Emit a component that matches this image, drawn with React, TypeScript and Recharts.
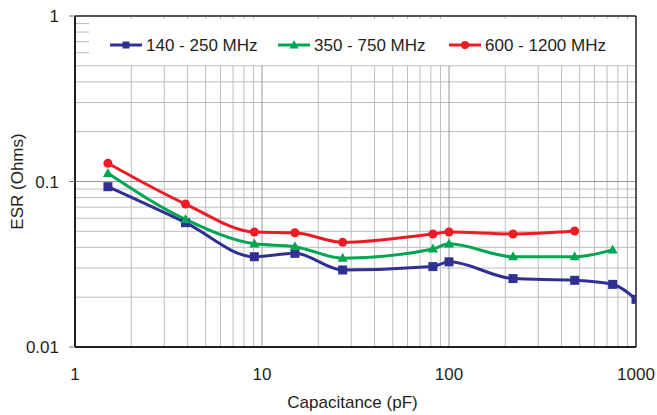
import React from 'react';
import { LineChart, Line, XAxis, YAxis, ReferenceLine, Legend } from 'recharts';

const capacitance = [1.5, 3.9, 9.1, 15, 27, 82, 100, 220, 470, 750, 1000];
const esrLow = [0.093, 0.0564, 0.0351, 0.0368, 0.0292, 0.0306, 0.0327, 0.0259, 0.0253, 0.0239, 0.0194];
const esrMid = [0.112, 0.059, 0.042, 0.0404, 0.0344, 0.0391, 0.042, 0.0351, 0.0351, 0.0386];
const esrHigh = [0.129, 0.0731, 0.0495, 0.049, 0.0429, 0.0482, 0.0495, 0.0482, 0.0502];
const seriesNames = ['140 - 250 MHz', '350 - 750 MHz', '600 - 1200 MHz'];
const xTicks = [1, 10, 100, 1000];
const yTicks = [0.01, 0.1, 1];
const xMajor = [10, 100];
const xMinor = [2, 3, 4, 5, 6, 7, 8, 9, 20, 30, 40, 50, 60, 70, 80, 90, 200, 300, 400, 500, 600, 700, 800, 900];
const yMinorFull = [0.02, 0.03, 0.04, 0.05, 0.06, 0.07, 0.08, 0.09, 0.2, 0.3, 0.4, 0.5];
const yMinorShort = [0.6, 0.7, 0.8, 0.9];
const yMajor = [0.1];

const BLUE = '#2e3192';
const GREEN = '#00a651';
const RED = '#ed1c24';
const TEXT = '#231f20';
const FONT = '"Liberation Sans", Arial, Helvetica, sans-serif';

const toPoints = (ys: number[]) => ys.map((y, i) => ({ x: capacitance[i], y }));

const Square = (color: string, s: number) => (props: any) => {
  const { cx, cy, index } = props;
  if (cx == null || cy == null) return <g key={`sq-${index}`} />;
  return <rect key={`sq-${index}`} x={cx - s / 2} y={cy - s / 2} width={s} height={s} fill={color} />;
};
const Triangle = (color: string, s: number) => (props: any) => {
  const { cx, cy, index } = props;
  if (cx == null || cy == null) return <g key={`tr-${index}`} />;
  const h = s * 0.9;
  return (
    <polygon
      key={`tr-${index}`}
      points={`${cx},${cy - h * 0.6} ${cx - s / 2},${cy + h * 0.4} ${cx + s / 2},${cy + h * 0.4}`}
      fill={color}
    />
  );
};
const Circle = (color: string, r: number) => (props: any) => {
  const { cx, cy, index } = props;
  if (cx == null || cy == null) return <g key={`ci-${index}`} />;
  return <circle key={`ci-${index}`} cx={cx} cy={cy} r={r} fill={color} />;
};

const LegendContent = () => {
  const items = [
    { name: seriesNames[0], color: BLUE, x: 10, kind: 'sq' },
    { name: seriesNames[1], color: GREEN, x: 178, kind: 'tr' },
    { name: seriesNames[2], color: RED, x: 349, kind: 'ci' },
  ];
  return (
    <svg width={540} height={30} style={{ display: 'block' }}>
      {items.map((it) => (
        <g key={it.name}>
          <line x1={it.x} x2={it.x + 32} y1={15} y2={15} stroke={it.color} strokeWidth={3} />
          {it.kind === 'sq' && <rect x={it.x + 12.5} y={11.5} width={7} height={7} fill={it.color} />}
          {it.kind === 'tr' && (
            <polygon points={`${it.x + 16},${10} ${it.x + 11.5},${18.5} ${it.x + 20.5},${18.5}`} fill={it.color} />
          )}
          {it.kind === 'ci' && <circle cx={it.x + 16} cy={15} r={4} fill={it.color} />}
          <text x={it.x + 36} y={15} dominantBaseline="central" fontSize={17} fill={TEXT} fontFamily={FONT}>
            {it.name}
          </text>
        </g>
      ))}
    </svg>
  );
};

const YLabel = (props: any) => {
  const vb = props.viewBox || { x: 0, y: 16, width: 75, height: 331 };
  const cx = 17;
  const cy = vb.y + vb.height / 2;
  return (
    <text
      x={cx}
      y={cy}
      transform={`rotate(-90, ${cx}, ${cy})`}
      textAnchor="middle"
      dominantBaseline="central"
      fontSize={17}
      fill={TEXT}
      fontFamily={FONT}
    >
      ESR (Ohms)
    </text>
  );
};

const XLabel = (props: any) => {
  const vb = props.viewBox || { x: 75, y: 347, width: 561, height: 68 };
  const cx = vb.x + vb.width / 2 - 3;
  const cy = 402;
  return (
    <text x={cx} y={cy} textAnchor="middle" dominantBaseline="central" fontSize={17} fill={TEXT} fontFamily={FONT}>
      Capacitance (pF)
    </text>
  );
};

const fmtY = (v: number) => (v >= 1 ? '1' : v >= 0.1 ? '0.1' : '0.01');

export default function App() {
  return (
    <div style={{ position: 'absolute', left: 0, top: 0, width: 657, height: 415, background: '#fff' }}>
      <LineChart width={657} height={415} margin={{ top: 16, right: 21, left: 0, bottom: 0 }} style={{ fontFamily: FONT }}>
        <XAxis
          type="number"
          dataKey="x"
          scale="log"
          domain={[1, 1000]}
          ticks={xTicks}
          allowDataOverflow
          height={68}
          tickSize={0}
          tickMargin={21}
          tickLine={false}
          axisLine={{ stroke: TEXT, strokeWidth: 2 }}
          tick={{ fontSize: 17, fill: TEXT, fontFamily: FONT }}
          label={<XLabel />}
        />
        <YAxis
          type="number"
          dataKey="y"
          scale="log"
          domain={[0.01, 1]}
          ticks={yTicks}
          allowDataOverflow
          width={75}
          tickSize={6}
          tickMargin={10}
          tickFormatter={fmtY}
          tickLine={{ stroke: '#777', strokeWidth: 1 }}
          axisLine={{ stroke: TEXT, strokeWidth: 2 }}
          tick={{ fontSize: 17, fill: TEXT, fontFamily: FONT }}
          label={<YLabel />}
        />
        {xMinor.map((v) => (
          <ReferenceLine key={`xm-${v}`} segment={[{ x: v, y: 0.01 }, { x: v, y: 0.5 }]} stroke="#bdbdbd" strokeWidth={1} />
        ))}
        {xMinor.map((v) => (
          <ReferenceLine key={`xt-${v}`} segment={[{ x: v, y: 1 }, { x: v, y: 0.96 }]} stroke="#b0b0b0" strokeWidth={1} />
        ))}
        {yMinorFull.map((v) => (
          <ReferenceLine key={`ym-${v}`} segment={[{ x: 1, y: v }, { x: 1000, y: v }]} stroke="#bdbdbd" strokeWidth={1} />
        ))}
        {yMinorShort.map((v) => (
          <ReferenceLine key={`ys-${v}`} segment={[{ x: 1, y: v }, { x: 1.19, y: v }]} stroke="#b8b8b8" strokeWidth={1} />
        ))}
        {xMajor.map((v) => (
          <ReferenceLine key={`xM-${v}`} segment={[{ x: v, y: 0.01 }, { x: v, y: 0.5 }]} stroke="#969696" strokeWidth={1} />
        ))}
        {yMajor.map((v) => (
          <ReferenceLine key={`yM-${v}`} segment={[{ x: 1, y: v }, { x: 1000, y: v }]} stroke="#969696" strokeWidth={1} />
        ))}
        <ReferenceLine segment={[{ x: 1, y: 1 }, { x: 1000, y: 1 }]} stroke={TEXT} strokeWidth={1.5} />
        <ReferenceLine segment={[{ x: 1000, y: 0.01 }, { x: 1000, y: 1 }]} stroke={TEXT} strokeWidth={1.5} />
        <Line
          data={toPoints(esrLow)}
          dataKey="y"
          name={seriesNames[0]}
          type="monotone"
          stroke={BLUE}
          strokeWidth={3}
          dot={Square(BLUE, 9)}
          isAnimationActive={false}
        />
        <Line
          data={toPoints(esrMid)}
          dataKey="y"
          name={seriesNames[1]}
          type="monotone"
          stroke={GREEN}
          strokeWidth={3}
          dot={Triangle(GREEN, 10)}
          isAnimationActive={false}
        />
        <Line
          data={toPoints(esrHigh)}
          dataKey="y"
          name={seriesNames[2]}
          type="monotone"
          stroke={RED}
          strokeWidth={3}
          dot={Circle(RED, 4.5)}
          isAnimationActive={false}
        />
        <Legend
          layout="horizontal"
          verticalAlign="middle"
          align="center"
          content={<LegendContent />}
          wrapperStyle={{ position: 'absolute', left: 100, top: 30, width: 540, height: 30 }}
        />
      </LineChart>
    </div>
  );
}
